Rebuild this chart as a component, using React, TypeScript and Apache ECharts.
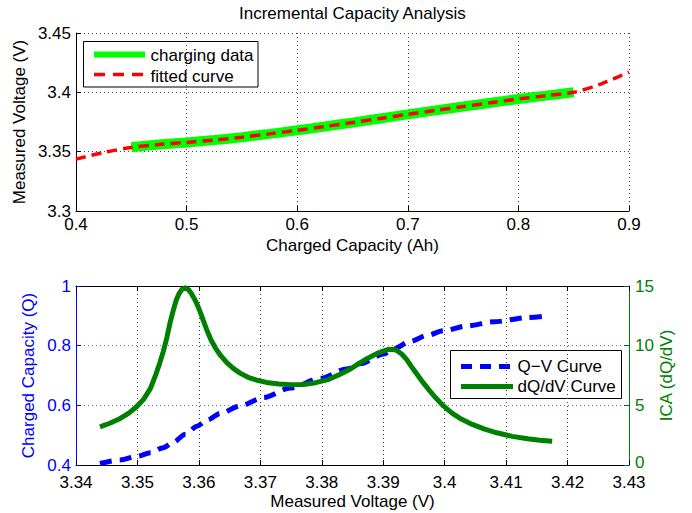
import React, { useEffect, useRef } from 'react';
import * as echarts from 'echarts';

const TITLE = 'Incremental Capacity Analysis';

// Top plot: fitted curve (Charged Capacity Ah -> Voltage V)
const fittedCap = [0.4, 0.425, 0.45, 0.475, 0.5, 0.525, 0.55, 0.575, 0.6, 0.625, 0.65, 0.675, 0.7, 0.725, 0.75, 0.775, 0.8, 0.825, 0.85, 0.875, 0.9];
const fittedVolt = [3.3437, 3.3493, 3.3535, 3.356, 3.3578, 3.3598, 3.3622, 3.365, 3.368, 3.3712, 3.3745, 3.378, 3.3814, 3.3848, 3.388, 3.3912, 3.3944, 3.3972, 3.4, 3.4072, 3.417];

// Top plot: charging data
const chargingCap = [0.45, 0.475, 0.5, 0.525, 0.55, 0.575, 0.6, 0.625, 0.65, 0.675, 0.7, 0.725, 0.75, 0.775, 0.8, 0.825, 0.85];
const chargingVolt = [3.3537, 3.356, 3.3578, 3.3598, 3.3622, 3.365, 3.368, 3.3712, 3.3745, 3.378, 3.3814, 3.3848, 3.388, 3.3912, 3.3944, 3.3972, 3.4];

// Bottom plot: Q-V curve
const qvVolt = [3.3439, 3.3472, 3.3499, 3.3521, 3.3542, 3.3558, 3.3578, 3.3597, 3.3613, 3.3635, 3.3667, 3.3705, 3.3749, 3.3797, 3.3841, 3.3863, 3.3901, 3.3917, 3.3944, 3.3971, 3.3998, 3.4036, 3.408, 3.4134, 3.4165];
const qvCharge = [0.405, 0.417, 0.429, 0.441, 0.458, 0.476, 0.503, 0.53, 0.55, 0.573, 0.598, 0.626, 0.658, 0.69, 0.722, 0.74, 0.772, 0.789, 0.814, 0.834, 0.85, 0.866, 0.88, 0.894, 0.899];

// Bottom plot: dQ/dV curve
const icaVolt = [
  3.3439, 3.3455, 3.3472, 3.3486, 3.3499, 3.351, 3.3521, 3.353, 3.3536, 3.3542,
  3.3548, 3.3553, 3.3558, 3.3563, 3.3568, 3.3573, 3.3578, 3.3583, 3.3588, 3.3593,
  3.3598, 3.3603, 3.3608, 3.3613, 3.362, 3.3627, 3.3635, 3.3645, 3.3656, 3.3667,
  3.368, 3.3695, 3.371, 3.373, 3.375, 3.377, 3.379, 3.381, 3.383, 3.3845,
  3.386, 3.3875, 3.389, 3.39, 3.3908, 3.3915, 3.3922, 3.393, 3.3938, 3.3946,
  3.3955, 3.3965, 3.3975, 3.3985, 3.3998, 3.4012, 3.4027, 3.4045, 3.4065, 3.4085,
  3.411, 3.4135, 3.4155, 3.4175,
];
const icaValue = [
  3.2, 3.5, 3.9, 4.35, 4.9, 5.5, 6.4, 7.6, 8.5, 9.5,
  10.7, 11.9, 12.9, 13.8, 14.4, 14.75, 14.85, 14.7, 14.35, 13.9,
  13.35, 12.7, 12.0, 11.3, 10.45, 9.8, 9.2, 8.6, 8.1, 7.7,
  7.35, 7.1, 6.92, 6.78, 6.72, 6.75, 6.9, 7.15, 7.6, 8.0,
  8.5, 8.95, 9.35, 9.55, 9.68, 9.7, 9.6, 9.3, 8.85, 8.25,
  7.6, 6.9, 6.25, 5.65, 4.95, 4.35, 3.85, 3.4, 3.0, 2.7,
  2.4, 2.2, 2.08, 2.0,
];

const LEGEND_TOP = ['charging data', 'fitted curve'];
const LEGEND_BOTTOM = ['Q\u2212V Curve', 'dQ/dV Curve'];

const FONT = "'Liberation Sans', Arial, Helvetica, sans-serif";
const FS = 17;
const BLUE = '#0000ff';
const GREEN = '#008000';

const fmt = (v: number) => String(+v.toFixed(2));
const zip = (a: number[], b: number[]) => a.map((x, i) => [x, b[i]]);

export default function App() {
  const ref = useRef<HTMLDivElement>(null);
  useEffect(() => {
    if (!ref.current) return;
    const chart = echarts.init(ref.current, undefined, { renderer: 'svg' });
    const gridDot = { color: '#444', type: [1, 3] as any, width: 1 };
    const label = (color: string, margin: number) => ({
      color, fontSize: FS, fontFamily: FONT, margin, lineHeight: 15, formatter: fmt,
    });
    const nameStyle = (color: string) => ({ color, fontSize: FS, fontFamily: FONT });
    const option: any = {
      animation: false,
      backgroundColor: '#fff',
      title: {
        text: TITLE, left: 239, top: 5, padding: 0,
        textStyle: { fontSize: FS, fontWeight: 'normal', fontFamily: FONT, color: '#000' },
      },
      grid: [
        { left: 76, right: 63, top: 33, height: 178, containLabel: false },
        { left: 76, right: 63, top: 286, height: 179, containLabel: false },
      ],
      xAxis: [
        {
          type: 'value', gridIndex: 0, min: 0.4, max: 0.9, interval: 0.1, position: 'bottom',
          name: 'Charged Capacity (Ah)', nameLocation: 'middle', nameGap: 26, nameMoveOverlap: false, nameTextStyle: nameStyle('#000'),
          axisLine: { show: true, onZero: false, lineStyle: { color: '#000', width: 1 } },
          axisTick: { show: true, inside: true, length: 5, lineStyle: { color: '#000' } },
          axisLabel: label('#000', 6),
          splitLine: { show: true, lineStyle: gridDot },
        },
        {
          type: 'value', gridIndex: 1, min: 3.34, max: 3.43, interval: 0.01, position: 'bottom',
          name: 'Measured Voltage (V)', nameLocation: 'middle', nameGap: 28, nameMoveOverlap: false, nameTextStyle: nameStyle('#000'),
          axisLine: { show: true, onZero: false, lineStyle: { color: '#000', width: 1 } },
          axisTick: { show: true, inside: true, length: 5, lineStyle: { color: '#000' } },
          axisLabel: label('#000', 10),
          splitLine: { show: true, lineStyle: gridDot },
        },
        {
          type: 'value', gridIndex: 1, min: 3.34, max: 3.43, interval: 0.01, position: 'top',
          axisLine: { show: true, onZero: false, lineStyle: { color: '#000', width: 1 } },
          axisTick: { show: true, inside: true, length: 5, lineStyle: { color: '#000' } },
          axisLabel: { show: false },
          splitLine: { show: false },
        },
      ],
      yAxis: [
        {
          type: 'value', gridIndex: 0, min: 3.3, max: 3.45, interval: 0.05, position: 'left',
          name: 'Measured Voltage (V)', nameLocation: 'middle', nameGap: 48, nameRotate: 90, nameMoveOverlap: false, nameTextStyle: nameStyle('#000'),
          axisLine: { show: true, onZero: false, lineStyle: { color: '#000', width: 1 } },
          axisTick: { show: true, inside: true, length: 5, lineStyle: { color: '#000' } },
          axisLabel: label('#000', 5),
          splitLine: { show: true, lineStyle: gridDot },
        },
        {
          type: 'value', gridIndex: 1, min: 0.4, max: 1, interval: 0.2, position: 'left',
          name: 'Charged Capacity (Q)', nameLocation: 'middle', nameGap: 39, nameRotate: 90, nameMoveOverlap: false, nameTextStyle: nameStyle(BLUE),
          axisLine: { show: true, onZero: false, lineStyle: { color: BLUE, width: 1 } },
          axisTick: { show: true, inside: true, length: 5, lineStyle: { color: BLUE } },
          axisLabel: label(BLUE, 5),
          splitLine: { show: true, lineStyle: { color: 'rgba(0,0,255,0.6)', type: [1, 3], width: 1 } },
        },
        {
          type: 'value', gridIndex: 1, min: 0, max: 15, interval: 5, position: 'right',
          name: 'ICA (dQ/dV)', nameLocation: 'middle', nameGap: 29, nameRotate: 90, nameMoveOverlap: false, nameTextStyle: nameStyle(GREEN),
          axisLine: { show: true, onZero: false, lineStyle: { color: GREEN, width: 1 } },
          axisTick: { show: true, inside: true, length: 5, lineStyle: { color: '#006060' } },
          axisLabel: {
            ...label(GREEN, 6),
            formatter: (v: number) => (v === 0 ? '{lo|0}' : fmt(v)),
            rich: { lo: { color: GREEN, fontSize: FS, fontFamily: FONT, lineHeight: 15, padding: [0, 0, 5, 0] } },
          },
          splitLine: { show: false },
        },
      ],
      series: [
        {
          type: 'line', name: LEGEND_TOP[0], xAxisIndex: 0, yAxisIndex: 0,
          data: zip(chargingCap, chargingVolt), symbol: 'none', showSymbol: false, smooth: 0.3,
          lineStyle: { color: '#00ff00', width: 10, cap: 'butt' }, z: 2,
        },
        {
          type: 'line', name: LEGEND_TOP[1], xAxisIndex: 0, yAxisIndex: 0,
          data: zip(fittedCap, fittedVolt), symbol: 'none', showSymbol: false, smooth: 0.3,
          lineStyle: { color: '#ff0000', width: 3.5, type: [10, 6] }, z: 3,
        },
        {
          type: 'line', name: LEGEND_BOTTOM[0], xAxisIndex: 1, yAxisIndex: 1,
          data: zip(qvVolt, qvCharge), symbol: 'none', showSymbol: false, smooth: 0.3, smoothMonotone: 'x',
          lineStyle: { color: BLUE, width: 5, type: [12, 8] }, z: 2,
        },
        {
          type: 'line', name: LEGEND_BOTTOM[1], xAxisIndex: 1, yAxisIndex: 2,
          data: zip(icaVolt, icaValue), symbol: 'none', showSymbol: false, smooth: false,
          lineStyle: { color: GREEN, width: 5, join: 'round' }, z: 3,
        },
      ],
      graphic: [
        {
          type: 'group', z: 100,
          children: [
            { type: 'rect', shape: { x: 83.5, y: 41.5, width: 174.5, height: 45.5 }, style: { fill: '#fff', stroke: '#000', lineWidth: 1 } },
            { type: 'line', shape: { x1: 94, y1: 54.5, x2: 145, y2: 54.5 }, style: { stroke: '#00ff00', lineWidth: 6 } },
            { type: 'line', shape: { x1: 94, y1: 74.5, x2: 145, y2: 74.5 }, style: { stroke: '#ff0000', lineWidth: 3.5, lineDash: [11, 8] } },
            { type: 'text', x: 150.5, y: 55.5, style: { text: LEGEND_TOP[0], fill: '#000', fontSize: FS, fontFamily: FONT, verticalAlign: 'middle' } },
            { type: 'text', x: 150.5, y: 76, style: { text: LEGEND_TOP[1], fill: '#000', fontSize: FS, fontFamily: FONT, verticalAlign: 'middle' } },
            { type: 'rect', shape: { x: 450.5, y: 350.5, width: 171, height: 48 }, style: { fill: '#fff', stroke: '#000', lineWidth: 1 } },
            { type: 'line', shape: { x1: 461, y1: 366.5, x2: 513, y2: 366.5 }, style: { stroke: BLUE, lineWidth: 5, lineDash: [11, 8] } },
            { type: 'line', shape: { x1: 461, y1: 386.5, x2: 513, y2: 386.5 }, style: { stroke: GREEN, lineWidth: 5 } },
            { type: 'text', x: 517.5, y: 366, style: { text: LEGEND_BOTTOM[0], fill: '#000', fontSize: FS, fontFamily: FONT, verticalAlign: 'middle' } },
            { type: 'text', x: 517.5, y: 386.5, style: { text: LEGEND_BOTTOM[1], fill: '#000', fontSize: FS, fontFamily: FONT, verticalAlign: 'middle' } },
          ],
        },
      ],
    };
    chart.setOption(option);
    return () => chart.dispose();
  }, []);
  return (
    <div
      ref={ref}
      style={{ position: 'absolute', left: 0, top: 0, width: 692, height: 513, background: '#fff' }}
    />
  );
}
